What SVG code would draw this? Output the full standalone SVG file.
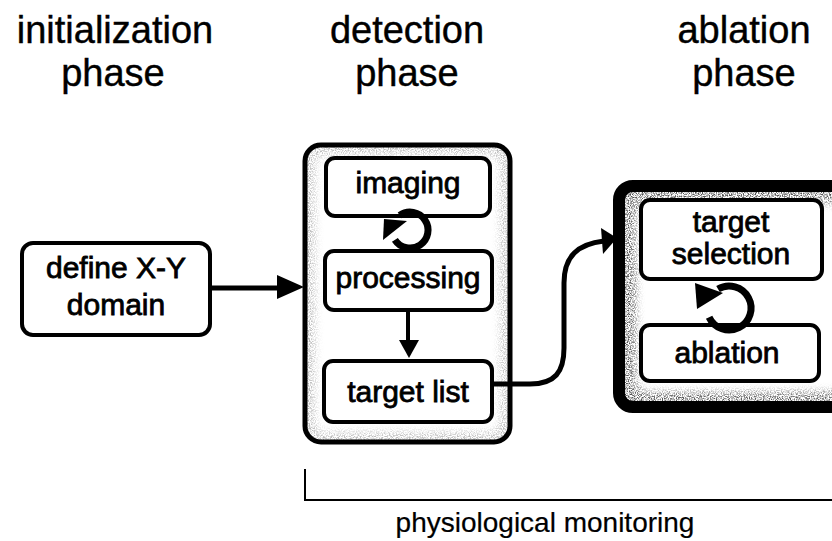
<svg xmlns="http://www.w3.org/2000/svg" width="832" height="541" viewBox="0 0 832 541">
  <defs>
    <style>
      .title { font-family: "Liberation Sans", Arial, sans-serif; font-size: 38px; fill: #000; stroke: #000; stroke-width: 0.4; text-anchor: middle; }
      .label { font-family: "Liberation Sans", Arial, sans-serif; font-size: 30px; fill: #000; stroke: #000; stroke-width: 0.8; text-anchor: middle; }
      .box { fill: #fff; stroke: #000; stroke-width: 4; }
      .edge { fill: none; stroke: #000; stroke-linecap: butt; stroke-linejoin: round; }
      .head { fill: #000; stroke: none; }
      .ring { fill: none; stroke: #000; stroke-width: 7; }
    </style>
    <!-- speckled grey texture used for the inner bevel of the phase frames -->
    <filter id="grain" x="0" y="0" width="1" height="1">
      <feTurbulence type="fractalNoise" baseFrequency="0.85" numOctaves="2" seed="3" result="noise"/>
      <feColorMatrix in="noise" type="matrix" values="0 0 0 0 0  0 0 0 0 0  0 0 0 0 0  0 0 0 3.2 -1.25" result="dots"/>
      <feComposite in="SourceGraphic" in2="dots" operator="in"/>
    </filter>
    <filter id="soft" x="-10%" y="-10%" width="120%" height="120%">
      <feGaussianBlur stdDeviation="4"/>
    </filter>
    <clipPath id="clipDetect"><rect x="305" y="145" width="205" height="297" rx="16"/></clipPath>
    <clipPath id="clipAblate"><rect x="619" y="186" width="240" height="221" rx="14"/></clipPath>
  </defs>

  <rect width="832" height="541" fill="#fff"/>

  <!-- phase headings -->
  <g id="headings">
    <text class="title" x="115" y="43">initialization</text>
    <text class="title" x="113" y="86">phase</text>
    <text class="title" x="407" y="43">detection</text>
    <text class="title" x="407" y="86">phase</text>
    <text class="title" x="744" y="43">ablation</text>
    <text class="title" x="744" y="86">phase</text>
  </g>

  <!-- detection phase frame -->
  <g id="detection-phase">
    <g clip-path="url(#clipDetect)">
      <rect x="305" y="145" width="205" height="297" fill="#fff"/>
      <rect x="305" y="145" width="205" height="297" fill="#b4b4b4" filter="url(#grain)"/>
      <rect x="315" y="155" width="185" height="277" rx="10" fill="#fff" filter="url(#soft)"/>
    </g>
    <rect x="305" y="145" width="205" height="297" rx="16" fill="none" stroke="#000" stroke-width="5"/>
  </g>

  <!-- ablation phase frame -->
  <g id="ablation-phase">
    <g clip-path="url(#clipAblate)">
      <rect x="619" y="186" width="240" height="221" fill="#fff"/>
      <rect x="619" y="186" width="240" height="221" fill="#505050" filter="url(#grain)"/>
      <rect x="636" y="203" width="210" height="189" rx="10" fill="#fff" filter="url(#soft)"/>
    </g>
    <rect x="619" y="186" width="240" height="221" rx="14" fill="none" stroke="#000" stroke-width="12"/>
  </g>

  <!-- nodes -->
  <g id="define-domain">
    <rect class="box" x="22" y="243" width="188" height="92" rx="11"/>
    <text class="label" x="116" y="278">define X-Y</text>
    <text class="label" x="116" y="315">domain</text>
  </g>
  <g id="imaging">
    <rect class="box" x="326" y="158" width="164" height="58" rx="9"/>
    <text class="label" x="408" y="193">imaging</text>
  </g>
  <g id="processing">
    <rect class="box" x="325" y="251" width="167" height="59" rx="9"/>
    <text class="label" x="408" y="288">processing</text>
  </g>
  <g id="target-list">
    <rect class="box" x="324" y="361" width="168" height="61" rx="9"/>
    <text class="label" x="408" y="402">target list</text>
  </g>
  <g id="target-selection">
    <rect class="box" x="641" y="200" width="181" height="79" rx="9"/>
    <text class="label" x="731" y="232">target</text>
    <text class="label" x="731" y="264">selection</text>
  </g>
  <g id="ablation">
    <rect class="box" x="641" y="325" width="178" height="56" rx="9"/>
    <text class="label" x="727" y="363">ablation</text>
  </g>

  <!-- connectors -->
  <g id="connectors">
    <!-- define domain -> detection phase -->
    <line class="edge" x1="210" y1="288" x2="280" y2="288" stroke-width="5"/>
    <polygon class="head" points="277,275 304,287 277,299"/>
    <!-- processing -> target list -->
    <line class="edge" x1="408" y1="310" x2="408" y2="342" stroke-width="4"/>
    <polygon class="head" points="399,340 419,340 409,358"/>
    <!-- target list -> ablation phase -->
    <path class="edge" d="M492,384 L530,384 C555,384 564,372 564,348 L564,283 C564,256 578,244 604,241" stroke-width="5"/>
    <polygon class="head" points="601,228 617,238 603,254"/>
    <!-- imaging / processing loop -->
    <path class="ring" d="M394.9,239.8 A18,18 0 1 0 399.7,215.3"/>
    <polygon class="head" points="384,219 407,221 383,240"/>
    <!-- target selection / ablation loop -->
    <path class="ring" d="M709.1,317.3 A22,22 0 1 0 718,289"/>
    <polygon class="head" points="695,283 723,293 697,309"/>
  </g>

  <!-- monitoring bracket -->
  <g id="monitoring">
    <path d="M305,469 L305,500 L832,500" fill="none" stroke="#000" stroke-width="2"/>
    <text class="title" style="font-size:28px;stroke-width:0.2" x="545" y="532">physiological monitoring</text>
  </g>
</svg>
